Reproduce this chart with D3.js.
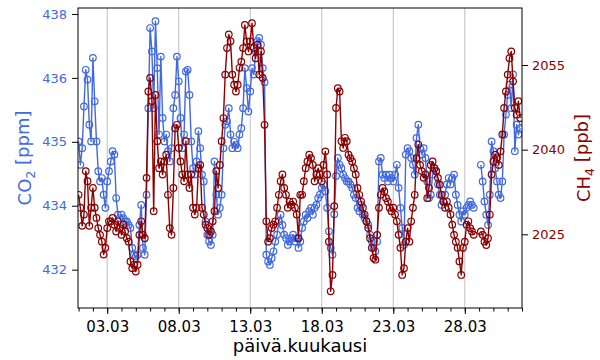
<!DOCTYPE html>
<html>
<head>
<meta charset="utf-8">
<script src="https://cdn.jsdelivr.net/npm/d3@7"></script>
<style>
  body { margin: 0; background: #fff; }
  svg { display: block; font-family: "DejaVu Sans", sans-serif; }
</style>
</head>
<body>
<svg id="chart" width="600" height="360"></svg>
<script>
// ---------- data (3-hourly, starting 01.03 00:00) ----------
const startTime = new Date(2023, 2, 1, 0, 0);
const stepHours = 3;

const co2 = [
  435.01, 434.46, 434.85, 435.83, 436.69, 436.46, 435.40, 435.01,
  436.97, 435.95, 435.01, 434.31, 434.07, 434.15, 433.76, 433.45,
  434.07, 434.31, 434.54, 434.78, 434.70, 433.68, 433.29, 433.21,
  433.29, 433.21, 433.13, 433.13, 433.05, 432.98, 432.51, 432.35,
  432.31, 432.35, 433.05, 433.52, 432.51, 432.35, 433.76, 435.79,
  437.67, 437.12, 435.79, 437.83, 436.73, 435.17, 437.00, 435.56,
  435.01, 435.17, 434.78, 434.54, 434.85, 435.79, 436.10, 437.00,
  436.42, 435.56, 434.85, 435.17, 436.65, 436.69, 436.10, 435.01,
  434.38, 434.23, 434.54, 435.25, 434.85, 434.23, 434.07, 433.13,
  432.82, 432.66, 432.58, 432.82, 434.54, 433.76, 433.29, 433.45,
  433.76, 434.85, 435.40, 435.48, 435.79, 435.17, 434.85, 435.00,
  434.93, 434.85, 435.17, 435.32, 435.79, 436.73, 436.26, 435.71,
  436.18, 436.73, 436.58, 437.12, 437.36, 437.44, 437.28, 436.73,
  436.40, 432.35, 432.19, 432.11, 432.27, 432.43, 432.66, 432.82,
  433.13, 433.29, 433.05, 432.82, 432.74, 432.58, 432.66, 432.74,
  432.82, 432.66, 432.74, 432.51, 432.66, 432.98, 433.13, 433.29,
  433.21, 433.37, 433.45, 433.29, 433.45, 433.52, 433.68, 433.76,
  433.92, 434.00, 433.84, 433.45, 432.90, 432.51, 432.35, 433.30,
  434.20, 434.62, 434.46, 434.38, 434.23, 434.15, 434.07, 434.07,
  434.00, 433.92, 433.76, 433.68, 433.45, 433.37, 433.52, 433.29,
  433.21, 433.13, 433.05, 432.82, 432.66, 432.51, 432.43, 432.66,
  434.54, 434.62, 434.23, 434.15, 434.23, 434.07, 434.23, 434.15,
  434.07, 434.23, 434.46, 433.92, 433.45, 432.98, 432.58, 434.70,
  434.85, 434.78, 434.62, 434.46, 434.23, 435.09, 435.40, 434.85,
  434.70, 434.85, 434.62, 434.07, 433.68, 433.76, 434.23, 434.38,
  434.31, 434.00, 433.76, 433.52, 433.60, 433.76, 434.00, 434.15,
  434.00, 434.15, 434.23, 433.76, 433.52, 433.29, 433.13, 433.37,
  433.29, 433.45, 433.52, 433.60, 433.52, 433.45, null, null,
  null, 434.46, 434.07, 433.60, 433.29, 433.05, 433.76, 435.01,
  434.78, 434.38, 434.07, 433.76, 433.68, 434.07, 435.17, 435.64,
  436.10, 436.34, 435.79, 436.58, 434.78, 435.40, 435.17, 435.32
];

const ch4 = [
  2032.0, 2029.7, 2026.5, 2028.5, 2036.2, 2034.4, 2026.5, 2029.7,
  2033.2, 2029.7, 2027.9, 2026.1, 2024.9, 2023.7, 2021.4, 2022.6,
  2026.1, 2027.3, 2027.3, 2027.9, 2026.7, 2025.5, 2027.3, 2026.1,
  2024.9, 2026.7, 2025.5, 2024.3, 2023.7, 2020.2, 2019.0, 2019.6,
  2018.4, 2019.6, 2024.9, 2027.3, 2024.9, 2024.3, 2035.0, 2050.3,
  2052.7, 2048.6, 2029.1, 2049.7, 2041.5, 2036.7, 2037.9, 2035.6,
  2037.9, 2039.1, 2032.0, 2026.1, 2024.9, 2033.2, 2043.8, 2044.4,
  2040.3, 2037.9, 2035.6, 2034.4, 2041.5, 2035.6, 2033.2, 2035.6,
  2029.7, 2028.5, 2029.7, 2036.7, 2037.3, 2029.7, 2028.5, 2026.7,
  2026.1, 2024.9, 2025.5, 2027.3, 2029.1, 2036.2, 2033.2, 2037.3,
  2041.5, 2045.6, 2053.3, 2058.0, 2060.4, 2059.2, 2053.3, 2051.5,
  2050.3, 2051.5, 2054.5, 2055.6, 2058.0, 2062.1, 2059.2, 2057.4,
  2059.2, 2062.4, 2058.0, 2056.2, 2058.6, 2053.3, 2057.4, 2052.7,
  2044.4, 2027.3, 2023.7, 2024.3, 2026.1, 2026.7, 2027.3, 2029.7,
  2032.0, 2034.4, 2035.6, 2033.2, 2032.0, 2029.7, 2030.8, 2030.2,
  2030.8, 2029.7, 2028.5, 2024.3, 2032.0, 2032.0, 2034.4, 2036.7,
  2037.9, 2039.1, 2038.5, 2037.3, 2034.4, 2035.6, 2036.7, 2035.6,
  2034.4, 2037.3, 2039.7, 2035.6, 2023.7, 2014.9, 2017.8, 2030.0,
  2047.4, 2050.9, 2050.3, 2041.5, 2040.3, 2042.1, 2041.5, 2039.1,
  2038.5, 2037.9, 2036.7, 2035.6, 2033.2, 2032.0, 2030.8, 2029.7,
  2028.5, 2027.3, 2026.1, 2024.3, 2022.6, 2020.8, 2020.5, 2024.9,
  2029.7, 2032.0, 2033.2, 2032.6, 2031.4, 2030.8, 2029.7, 2029.1,
  2029.7, 2028.5, 2027.3, 2024.9, 2022.6, 2017.8, 2019.0, 2023.7,
  2026.1, 2023.7, 2027.3, 2029.7, 2032.0, 2038.5, 2040.9, 2037.3,
  2036.2, 2035.0, 2035.6, 2031.4, 2033.2, 2037.3, 2037.9, 2036.7,
  2036.2, 2035.0, 2033.8, 2032.0, 2030.8, 2029.7, 2030.8, 2029.7,
  2028.5, 2026.7, 2024.9, 2023.7, 2022.6, 2020.2, 2017.8, 2022.6,
  2023.7, 2026.7, 2027.3, 2026.1, 2025.5, 2024.9, null, null,
  null, 2025.5, 2024.9, 2023.7, 2023.1, 2024.3, 2028.5, 2035.6,
  2037.9, 2039.1, 2038.5, 2037.3, 2039.7, 2042.7, 2047.4, 2050.3,
  2053.3, 2056.2, 2057.4, 2052.1, 2047.4, 2046.2, 2048.6, 2045.6
];

const xTickLabels = ["03.03", "08.03", "13.03", "18.03", "23.03", "28.03"];
const co2Ticks = [432, 433.5, 435, 436.5, 438];
const co2TickLabels = ["432", "434", "435", "436", "438"];
const ch4Ticks = [2025, 2040, 2055];

// ---------- layout ----------
const L = 78, R = 522, T = 8, B = 308;
const co2Color = "#4169e1", ch4Color = "#8b0000";

const svg = d3.select("#chart");

const x = d3.scaleTime()
  .domain([new Date(2023, 1, 28, 23, 0), new Date(2023, 3, 1, 0, 0)])
  .range([L, R]);
const yCO2 = d3.scaleLinear().domain([431.1, 438.14]).range([B, T]);
const yCH4 = d3.scaleLinear().domain([2011.94, 2065.1]).range([B, T]);

const toPoints = arr => arr.map((v, i) => ({
  t: new Date(startTime.getTime() + i * stepHours * 3600e3), v
}));
const co2Data = toPoints(co2);
const ch4Data = toPoints(ch4);

const parseTick = d3.timeParse("%d.%m.%Y");
const majorDates = xTickLabels.map(s => parseTick(s + ".2023"));
const minorDates = d3.timeDay.range(new Date(2023, 2, 1), new Date(2023, 3, 1, 1));

// clip
svg.append("defs").append("clipPath").attr("id", "plotclip")
  .append("rect").attr("x", L).attr("y", T).attr("width", R - L).attr("height", B - T);

// grid
svg.append("g").selectAll("line").data(majorDates).join("line")
  .attr("x1", d => x(d)).attr("x2", d => x(d))
  .attr("y1", T).attr("y2", B)
  .attr("stroke", "#b0b0b0").attr("stroke-width", 0.8);

function drawSeries(data, y, color) {
  const g = svg.append("g").attr("clip-path", "url(#plotclip)");
  const line = d3.line().defined(d => d.v != null)
    .x(d => x(d.t)).y(d => y(d.v));
  g.append("path").datum(data).attr("d", line)
    .attr("fill", "none").attr("stroke", color).attr("stroke-width", 1.4)
    .attr("stroke-linejoin", "round");
  g.selectAll("circle").data(data.filter(d => d.v != null)).join("circle")
    .attr("cx", d => x(d.t)).attr("cy", d => y(d.v)).attr("r", 3.3)
    .attr("fill", "none").attr("stroke", color).attr("stroke-width", 1.2);
}
drawSeries(co2Data, yCO2, co2Color);
drawSeries(ch4Data, yCH4, ch4Color);

// frame
svg.append("rect").attr("x", L).attr("y", T).attr("width", R - L).attr("height", B - T)
  .attr("fill", "none").attr("stroke", "#000").attr("stroke-width", 1);

// x axis
const xMinor = svg.append("g").attr("transform", `translate(0,${B})`)
  .call(d3.axisBottom(x).tickValues(minorDates).tickFormat("").tickSize(3.5).tickSizeOuter(0));
const xMajor = svg.append("g").attr("transform", `translate(0,${B})`)
  .call(d3.axisBottom(x).tickValues(majorDates).tickFormat((d, i) => xTickLabels[i])
    .tickSize(6).tickPadding(7).tickSizeOuter(0));
[xMinor, xMajor].forEach(g => g.select(".domain").remove());
xMajor.selectAll("text").attr("font-size", 15).attr("fill", "#000")
  .attr("font-family", "DejaVu Sans");
svg.selectAll(".tick line").attr("stroke", "#000");

// left axis
const yl = svg.append("g").attr("transform", `translate(${L},0)`)
  .call(d3.axisLeft(yCO2).tickValues(co2Ticks).tickFormat((d, i) => co2TickLabels[i])
    .tickSize(6).tickPadding(5).tickSizeOuter(0));
yl.select(".domain").remove();
yl.selectAll("text").attr("font-size", 13).attr("fill", co2Color).attr("font-family", "DejaVu Sans");
yl.selectAll(".tick line").attr("stroke", "#000");

// right axis
const yr = svg.append("g").attr("transform", `translate(${R},0)`)
  .call(d3.axisRight(yCH4).tickValues(ch4Ticks).tickFormat(d3.format("d"))
    .tickSize(6).tickPadding(4).tickSizeOuter(0));
yr.select(".domain").remove();
yr.selectAll("text").attr("font-size", 13).attr("fill", ch4Color).attr("font-family", "DejaVu Sans");
yr.selectAll(".tick line").attr("stroke", "#000");

// axis titles
svg.append("text").attr("x", 300).attr("y", 352).attr("text-anchor", "middle")
  .attr("font-size", 18).attr("fill", "#000").text("päivä.kuukausi");

function subLabel(tx, ty, main, sub, rest, color) {
  const t = svg.append("text").attr("transform", `translate(${tx},${ty}) rotate(-90)`)
    .attr("text-anchor", "middle").attr("font-size", 18).attr("fill", color);
  t.append("tspan").text(main);
  t.append("tspan").attr("font-size", 12.5).attr("dy", "0.3em").text(sub);
  t.append("tspan").attr("dy", "-0.3em").text(rest);
}
subLabel(31, 158, "CO", "2", " [ppm]", co2Color);
subLabel(590, 158, "CH", "4", " [ppb]", ch4Color);
</script>
</body>
</html>
